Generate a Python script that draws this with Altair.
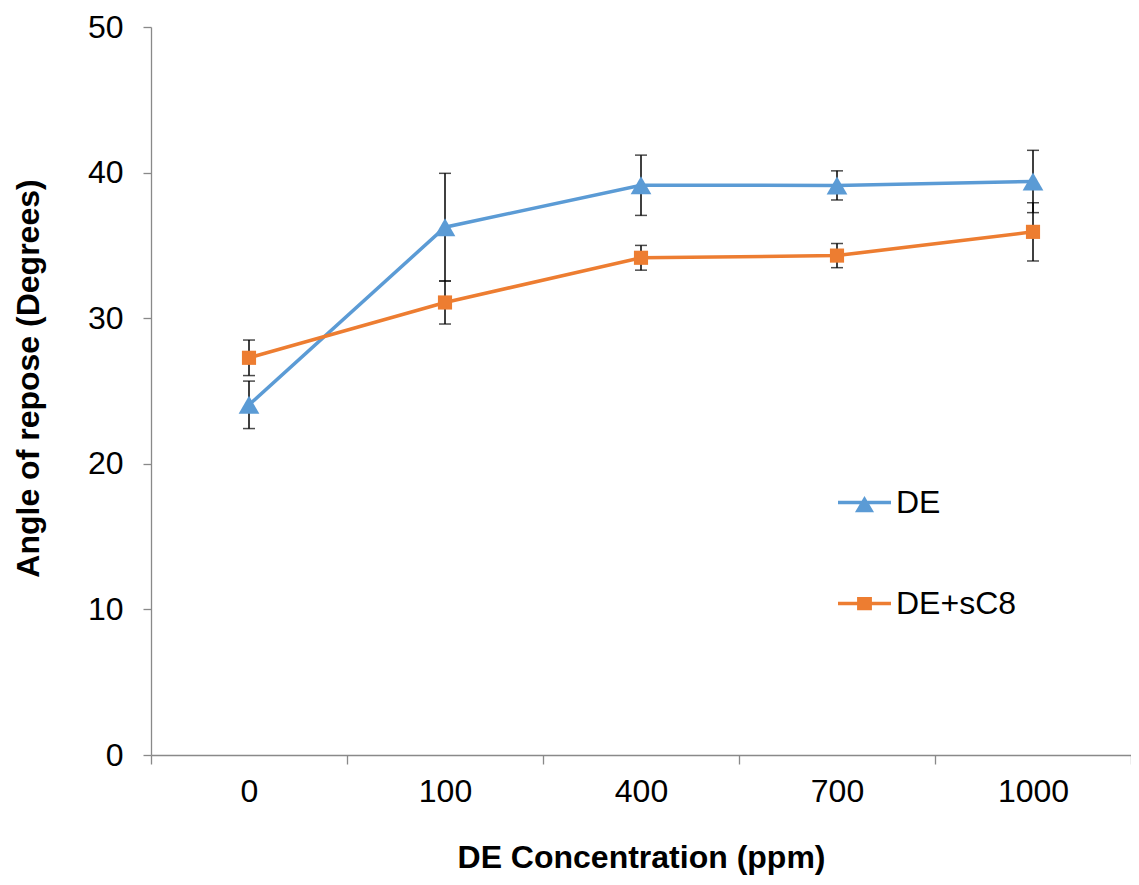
import altair as alt
import pandas as pd

concentrations = ["0", "100", "400", "700", "1000"]
series_names = ["DE", "DE+sC8"]
de_mean = [24.05, 36.25, 39.13, 39.12, 39.39]
de_err = [1.63, 3.70, 2.07, 1.00, 2.14]
sc8_mean = [27.28, 31.08, 34.15, 34.30, 35.93]
sc8_err = [1.22, 1.48, 0.85, 0.83, 2.00]
colors = ["#5B9BD5", "#ED7D31"]

rows = []
for name, means, errs in [("DE", de_mean, de_err), ("DE+sC8", sc8_mean, sc8_err)]:
    for c, m, e in zip(concentrations, means, errs):
        rows.append({"Conc": c, "Series": name, "Value": m, "Lo": m - e, "Hi": m + e})
df = pd.DataFrame(rows)

FONT = "Liberation Sans"
GRAY = "#898989"

xscale = alt.Scale(type="band", domain=concentrations, paddingInner=0, paddingOuter=0)

xenc = alt.X(
    "Conc:N",
    scale=xscale,
    bandPosition=0.5,
    axis=alt.Axis(
        title="DE Concentration (ppm)",
        labelAngle=0,
        tickBand="extent",
        tickSize=9,
        labelPadding=12,
        titlePadding=35,
        titleFontSize=32,
    ),
)
yenc = alt.Y(
    "Value:Q",
    scale=alt.Scale(domain=[0, 50], nice=False),
    axis=alt.Axis(
        title="Angle of repose (Degrees)",
        values=[0, 10, 20, 30, 40, 50],
        tickSize=8,
        labelPadding=20,
        titlePadding=42,
        titleFontSize=32,
        titleY=351,
        grid=False,
    ),
)

base = alt.Chart(df)

err_rule = base.mark_rule(color="black", strokeWidth=1.5).encode(
    x=xenc, y=alt.Y("Lo:Q"), y2="Hi:Q"
)
cap_lo = base.mark_tick(color="black", size=12, thickness=1.5).encode(x=xenc, y=alt.Y("Lo:Q"))
cap_hi = base.mark_tick(color="black", size=12, thickness=1.5).encode(x=xenc, y=alt.Y("Hi:Q"))

de_data = base.transform_filter("datum.Series == 'DE'")
sc_data = base.transform_filter("datum.Series == 'DE+sC8'")

line_de = de_data.mark_line(strokeWidth=3.5, color=colors[0]).encode(x=xenc, y=yenc)
line_sc = sc_data.mark_line(strokeWidth=3.5, color=colors[1]).encode(x=xenc, y=yenc)
tri = de_data.mark_point(
    shape="triangle-up", filled=True, size=430, opacity=1, color=colors[0]
).encode(x=xenc, y="Value:Q")
sq = sc_data.mark_point(
    shape="square", filled=True, size=200, opacity=1, color=colors[1]
).encode(x=xenc, y="Value:Q")

legend_paths = [
    "M-1,-0.063L1,-0.063L1,0.063L-1,0.063ZM0,-0.25L0.36,0.37L-0.36,0.37Z",
    "M-1,-0.063L1,-0.063L1,0.063L-1,0.063ZM-0.28,-0.25L0.28,-0.25L0.28,0.25L-0.28,0.25Z",
]
leg = alt.Legend(
    title=None,
    orient="none",
    legendX=687,
    legendY=449,
    symbolSize=2809,
    symbolStrokeWidth=0,
    labelFontSize=32,
    labelFont=FONT,
    labelColor="black",
    labelOffset=5,
    rowPadding=58,
    padding=0,
)
legend_layer = base.transform_filter("datum.Value < 0").mark_point(
    filled=True, opacity=1, size=2809
).encode(
    x=xenc,
    y="Value:Q",
    color=alt.Color("Series:N", scale=alt.Scale(domain=series_names, range=colors), legend=leg),
    shape=alt.Shape("Series:N", scale=alt.Scale(domain=series_names, range=legend_paths), legend=leg),
)

chart = (
    alt.layer(err_rule, cap_lo, cap_hi, line_de, line_sc, tri, sq, legend_layer)
    .properties(
        width=980,
        height=728,
        autosize="none",
        padding={"left": 143, "top": 19, "right": 0, "bottom": 122},
    )
    .configure_view(stroke=None)
    .configure_axis(
        labelFont=FONT,
        labelFontSize=32,
        labelColor="black",
        titleFont=FONT,
        titleFontWeight="bold",
        titleColor="black",
        domainColor=GRAY,
        tickColor=GRAY,
        domainWidth=1.3,
        tickWidth=1.3,
    )
)

chart.save("out.html", embed_options={"renderer": "svg", "actions": False})
